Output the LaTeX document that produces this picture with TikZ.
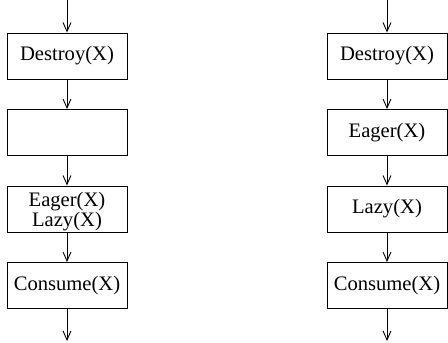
\documentclass[tikz,border=0pt]{standalone}
\usepackage{fontspec}
\setmainfont{Liberation Serif}
\usetikzlibrary{arrows.meta}
\begin{document}
\begin{tikzpicture}[x=1pt,y=-1pt,
  stepbox/.style={draw,line width=0.9pt,minimum width=120pt,minimum height=46pt,inner sep=0pt,
    align=center,font=\fontsize{20.6}{20}\selectfont},
  flow/.style={draw,line width=0.9pt,-{Straight Barb[length=9pt,width=8pt,line width=0.9pt]}}]
\useasboundingbox (0,0) rectangle (448,343);
% left column
\coordinate (lt) at (67,0);
\node[stepbox] (l1) at (67,56) {Destroy(X)};
\node[stepbox] (l2) at (67,132.5) {};
\node[stepbox] (l3) at (67,209) {};
\node[font=\fontsize{20.6}{20}\selectfont,align=center,inner sep=0pt] (l3t) at (67,212) {Eager(X)\\Lazy(X)};
\node[stepbox] (l4) at (67,285.5) {Consume(X)};
\coordinate (lb) at (67,341);
\draw[flow] (lt) -- (l1);
\draw[flow] (l1) -- (l2);
\draw[flow] (l2) -- (l3);
\draw[flow] (l3) -- (l4);
\draw[flow] (l4) -- (lb);
% right column
\coordinate (rt) at (387,0);
\node[stepbox] (r1) at (387,56) {Destroy(X)};
\node[stepbox] (r2) at (387,132.5) {Eager(X)};
\node[stepbox] (r3) at (387,209) {Lazy(X)};
\node[stepbox] (r4) at (387,285.5) {Consume(X)};
\coordinate (rb) at (387,341);
\draw[flow] (rt) -- (r1);
\draw[flow] (r1) -- (r2);
\draw[flow] (r2) -- (r3);
\draw[flow] (r3) -- (r4);
\draw[flow] (r4) -- (rb);
\end{tikzpicture}
\end{document}
